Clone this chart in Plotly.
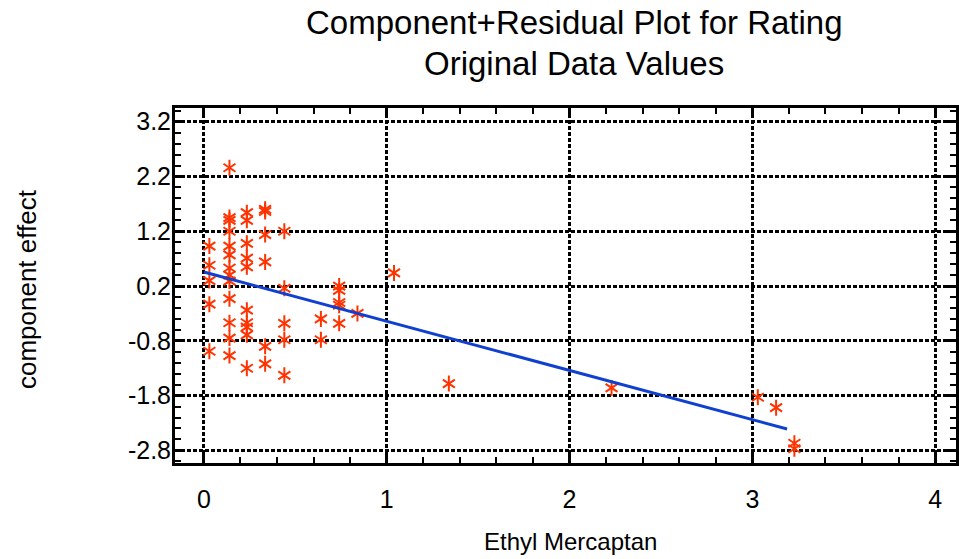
import plotly.graph_objects as go

# ---- data ----
ethyl_mercaptan = [
    0.03, 0.03, 0.03, 0.03, 0.03,
    0.14, 0.14, 0.14, 0.14, 0.14, 0.14, 0.14, 0.14, 0.14, 0.14, 0.14, 0.14, 0.14,
    0.235, 0.235, 0.235, 0.235, 0.235, 0.235, 0.235, 0.235, 0.235, 0.235,
    0.335, 0.335, 0.335, 0.335, 0.335, 0.335,
    0.44, 0.44, 0.44, 0.44, 0.44,
    0.64, 0.64,
    0.74, 0.74, 0.74, 0.74, 0.74,
    0.84,
    1.04, 1.34, 2.23, 3.03, 3.13, 3.23, 3.23,
]
component_effect = [
    0.93, 0.58, 0.30, -0.13, -0.99,
    2.36, 1.45, 1.40, 1.20, 0.93, 0.77, 0.53, 0.40, 0.29, -0.03, -0.47, -0.75, -1.07,
    1.54, 1.40, 0.98, 0.71, 0.55, -0.24, -0.47, -0.55, -0.69, -1.30,
    1.60, 1.56, 1.14, 0.64, -0.90, -1.22,
    1.20, 0.16, -0.48, -0.78, -1.43,
    -0.40, -0.78,
    0.20, 0.12, -0.10, -0.15, -0.48,
    -0.30,
    0.44, -1.58, -1.66, -1.83, -2.02, -2.67, -2.77,
]
fit_x = [0.0, 3.19]
fit_y = [0.456, -2.41]

x_tick_vals = [0, 1, 2, 3, 4]
x_tick_text = ["0", "1", "2", "3", "4"]
y_tick_vals = [3.2, 2.2, 1.2, 0.2, -0.8, -1.8, -2.8]
y_tick_text = ["3.2", "2.2", "1.2", "0.2", "-0.8", "-1.8", "-2.8"]

title_lines = ["Component+Residual Plot for Rating", "Original Data Values"]

FONT = "Liberation Sans, Arial, Helvetica, sans-serif"
RED = "#FF3300"
BLUE = "#1040D0"

PAGE_W, PAGE_H = 959, 559

fig = go.Figure()
for sym in ["y-up-open", "y-down-open"]:
    fig.add_trace(go.Scatter(
        x=ethyl_mercaptan, y=component_effect, mode="markers",
        marker=dict(symbol=sym, size=10, color=RED,
                    line=dict(color=RED, width=2)),
        showlegend=False, hoverinfo="x+y",
    ))
fig.add_trace(go.Scatter(
    x=fit_x, y=fit_y, mode="lines",
    line=dict(color=BLUE, width=3), showlegend=False,
))

axis_common = dict(
    showline=True, linecolor="black", linewidth=3, mirror="allticks",
    ticks="inside", ticklen=10, tickwidth=2.5, tickcolor="black",
    showgrid=True, gridcolor="black", gridwidth=3, griddash="4px,2px",
    zeroline=False,
    tickfont=dict(family=FONT, size=25, color="black"),
)

fig.update_xaxes(
    range=[-0.158, 4.114], tickvals=x_tick_vals, ticktext=x_tick_text,
    minor=dict(dtick=0.2, tick0=0, ticks="inside", ticklen=6,
               tickwidth=2, tickcolor="black", showgrid=False),
    ticklabelstandoff=12,
    **axis_common,
)
fig.update_yaxes(
    range=[-3.03, 3.45], tickvals=y_tick_vals, ticktext=y_tick_text,
    minor=dict(dtick=0.2, tick0=0.2, ticks="inside", ticklen=6,
               tickwidth=2, tickcolor="black", showgrid=False),
    ticklabelstandoff=-4,
    **axis_common,
)

title_centers_y = [22, 64]  # page pixel centres of the two title lines
annotations = [
    dict(text=line, x=(576 - 175) / 784, y=(463 - cy) / 355,
         xref="paper", yref="paper", showarrow=False,
         xanchor="center", yanchor="middle",
         font=dict(family=FONT, size=33, color="black"))
    for line, cy in zip(title_lines, title_centers_y)
]
annotations += [
    dict(text="component effect", textangle=-90,
         x=(26 - 175) / 784, y=(463 - 289.5) / 355,
         xref="paper", yref="paper", showarrow=False,
         xanchor="center", yanchor="middle",
         font=dict(family=FONT, size=26, color="black")),
    dict(text="Ethyl Mercaptan",
         x=(572 - 175) / 784, y=(463 - 541) / 355,
         xref="paper", yref="paper", showarrow=False,
         xanchor="center", yanchor="middle",
         font=dict(family=FONT, size=24, color="black")),
]

fig.update_layout(
    width=PAGE_W, height=PAGE_H,
    margin=dict(l=175, r=0, t=108, b=96, pad=0),
    paper_bgcolor="white", plot_bgcolor="white",
    annotations=annotations,
)

fig.write_html("out.html", config={"displayModeBar": False},
               post_script="document.body.style.margin='0';")
